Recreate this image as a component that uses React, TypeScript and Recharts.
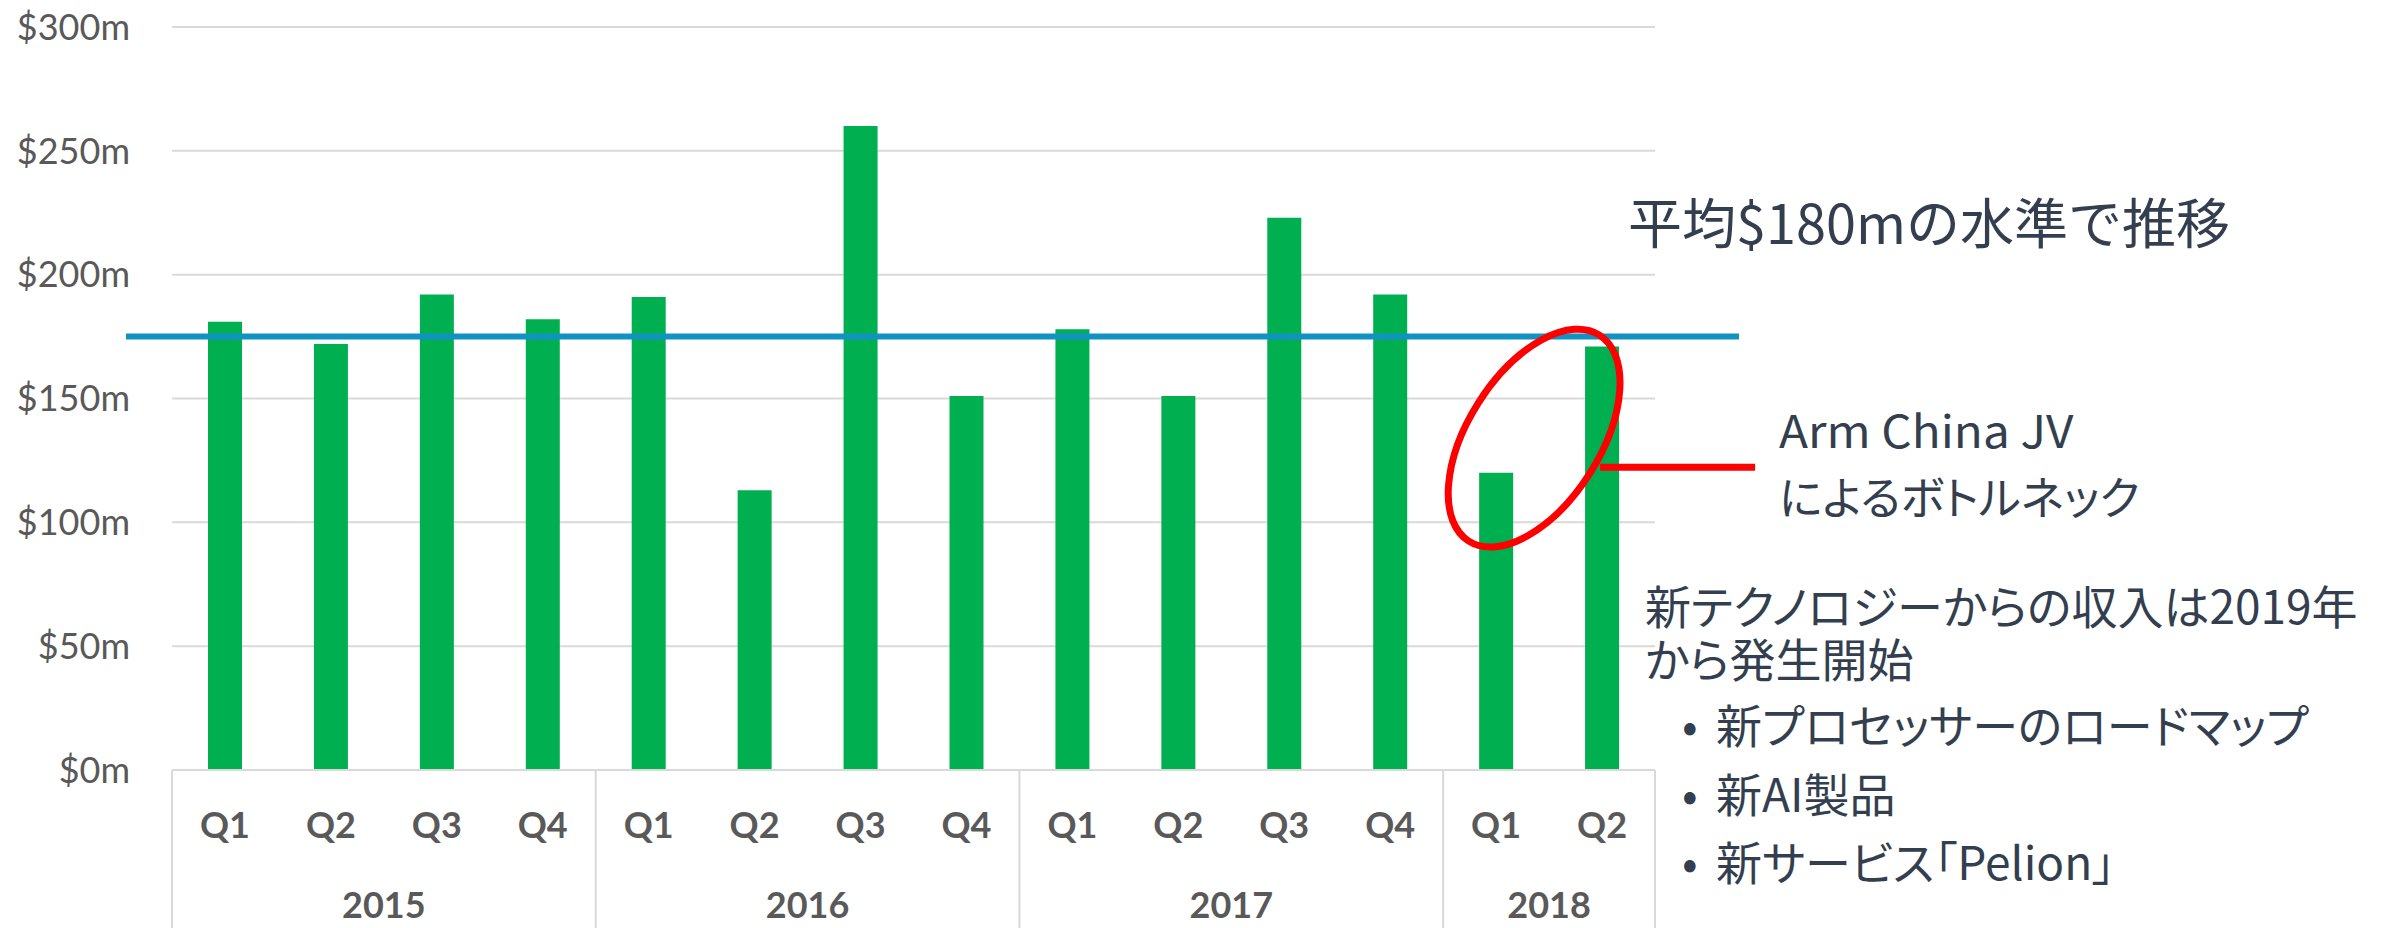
import React from 'react';
import { BarChart, Bar, XAxis, YAxis, CartesianGrid, ReferenceLine, ReferenceDot } from 'recharts';

// quarterly revenue, $m
const years = ['2015', '2015', '2015', '2015', '2016', '2016', '2016', '2016', '2017', '2017', '2017', '2017', '2018', '2018'];
const quarters = ['Q1', 'Q2', 'Q3', 'Q4', 'Q1', 'Q2', 'Q3', 'Q4', 'Q1', 'Q2', 'Q3', 'Q4', 'Q1', 'Q2'];
const revenue = [181, 172, 192, 182, 191, 113, 260, 151, 178, 151, 223, 192, 120, 171];
const yTicks = [0, 50, 100, 150, 200, 250, 300];
const averageLevel = 175;

// annotation anchors (data space)
const bottleneckKey = '2018 Q1';
const bottleneckValue = 134;

const title = '平均$180mの水準で推移';
const jvNote = ['Arm China JV', 'によるボトルネック'];
const newTechNote = ['新テクノロジーからの収入は2019年', 'から発生開始'];
const bullets = ['新プロセッサーのロードマップ', '新AI製品', '新サービス「Pelion」'];

const data = quarters.map((q, i) => ({ key: `${years[i]} ${q}`, quarter: q, year: years[i], revenue: revenue[i] }));

const W = 2381;
const H = 928;
const MARGIN = { top: 27, right: 726, bottom: 0, left: 0 };
const Y_AXIS_W = 172;
const X_AXIS_H = 158;

const axisGray = '#595959';
const lineGray = '#d9d9d9';
const textDark = '#333f4f';
const latin = 'Lato, "Open Sans", sans-serif';
const jp = '"Noto Sans CJK JP", "Noto Sans", sans-serif';

function groupOf(i: number) {
  let s = i;
  while (s > 0 && years[s - 1] === years[i]) s--;
  let e = i;
  while (e < years.length - 1 && years[e + 1] === years[i]) e++;
  return { s, e };
}

function QuarterTick(props: any) {
  const { x, y, payload, index } = props;
  const fallback = (W - MARGIN.right - Y_AXIS_W) / data.length / 2;
  const half = payload && typeof payload.offset === 'number' && payload.offset > 0 ? payload.offset : fallback;
  const i = typeof index === 'number' ? index : payload.index;
  const { s, e } = groupOf(i);
  const n = e - s + 1;
  const mid = s + Math.floor((n - 1) / 2);
  return (
    <g>
      <text x={x} y={y + 68} textAnchor="middle" fill={axisGray} fontSize={36} fontWeight={700} fontFamily={latin}>
        {quarters[i]}
      </text>
      {i === mid && (
        <text x={x + (n % 2 === 0 ? half : 0)} y={y + 148} textAnchor="middle" fill={axisGray} fontSize={36} fontWeight={700} fontFamily={latin}>
          {years[i]}
        </text>
      )}
      {i === s && <line x1={x - half} x2={x - half} y1={y} y2={y + X_AXIS_H} stroke={lineGray} strokeWidth={2} />}
      {i === data.length - 1 && <line x1={x + half} x2={x + half} y1={y} y2={y + X_AXIS_H} stroke={lineGray} strokeWidth={2} />}
    </g>
  );
}

function AverageLine(props: any) {
  const { x1, x2, y1 } = props;
  return <line x1={x1 - 46} x2={x2 + 84} y1={y1} y2={y1} stroke="#1193c1" strokeWidth={6} />;
}

function BottleneckMark(props: any) {
  const { cx, cy } = props;
  const ex = cx + 38;
  return (
    <g>
      <ellipse cx={ex} cy={cy} rx={122} ry={66} fill="none" stroke="#ff0000" strokeWidth={7} transform={`rotate(-57.6 ${ex} ${cy})`} />
      <line x1={cx + 104} x2={cx + 259} y1={cy + 29} y2={cy + 29} stroke="#ff0000" strokeWidth={7} />
    </g>
  );
}

const note = (left: number, centerY: number, size: number, content: React.ReactNode, palt = true, sx = 1) => (
  <div
    style={{
      position: 'absolute',
      left,
      top: centerY - size * 0.56,
      fontSize: size,
      lineHeight: `${size}px`,
      fontFamily: jp,
      color: textDark,
      whiteSpace: 'nowrap',
      fontFeatureSettings: palt ? '"palt"' : 'normal',
      transform: sx !== 1 ? `scaleX(${sx})` : undefined,
      transformOrigin: 'left center',
    }}
  >
    {content}
  </div>
);

export default function App() {
  return (
    <div style={{ position: 'absolute', left: 0, top: 0, width: W, height: H, background: '#fff', overflow: 'hidden' }}>
      <BarChart width={W} height={H} data={data} margin={MARGIN}>
        <CartesianGrid vertical={false} stroke={lineGray} strokeWidth={2} />
        <XAxis
          dataKey="key"
          interval={0}
          height={X_AXIS_H}
          tickLine={false}
          tickSize={0}
          tickMargin={0}
          axisLine={{ stroke: lineGray, strokeWidth: 2 }}
          tick={(p: any) => <QuarterTick {...p} />}
        />
        <YAxis
          width={Y_AXIS_W}
          domain={[0, 300]}
          ticks={yTicks}
          axisLine={false}
          tickLine={false}
          tickSize={0}
          tickMargin={42}
          tickFormatter={(v: number) => `$${v}m`}
          tick={{ fill: axisGray, fontSize: 36, fontFamily: latin }}
        />
        <Bar dataKey="revenue" fill="#00b050" barSize={34} isAnimationActive={false} />
        <ReferenceLine y={averageLevel} shape={(p: any) => <AverageLine {...p} />} />
        <ReferenceDot x={bottleneckKey} y={bottleneckValue} ifOverflow="visible" shape={(p: any) => <BottleneckMark {...p} />} />
      </BarChart>

      {note(1628, 224, 54, title, false)}
      {note(1779, 431, 45, jvNote[0], false, 1.06)}
      {note(1779, 498, 45, jvNote[1])}
      <div
        style={{
          position: 'absolute',
          left: 1645,
          top: 578,
          fontSize: 46,
          lineHeight: '53px',
          fontFamily: jp,
          color: textDark,
          whiteSpace: 'nowrap',
          fontFeatureSettings: '"palt"',
        }}
      >
        {newTechNote[0]}
        <br />
        {newTechNote[1]}
      </div>
      {bullets.map((b, i) => (
        <React.Fragment key={b}>
          {note(1682, [726, 795, 863][i], 46, '•', false)}
          {note(1716, [726, 795, 863][i], 46, b)}
        </React.Fragment>
      ))}
    </div>
  );
}
